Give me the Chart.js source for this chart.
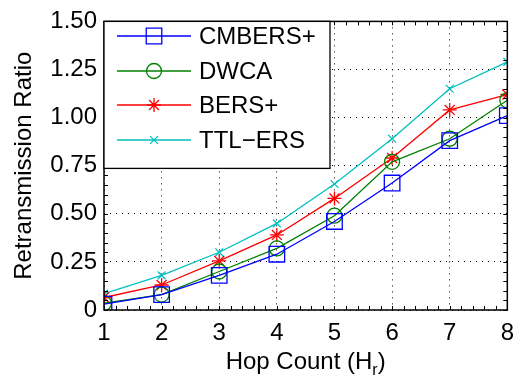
<!DOCTYPE html>
<html>
<head>
<meta charset="utf-8">
<script src="https://cdn.jsdelivr.net/npm/chart.js@4.4.0/dist/chart.umd.min.js"></script>
<style>
  html, body { margin: 0; padding: 0; background: #fff; }
  #wrap { width: 523px; height: 380px; }
</style>
</head>
<body>
<div id="wrap"><canvas id="hopChart" width="523" height="380"></canvas></div>
<script>
// Daten
const hops = [1, 2, 3, 4, 5, 6, 7, 8];
const cmbers = [0.03, 0.08, 0.18, 0.29, 0.46, 0.66, 0.88, 1.01];
const dwca = [0.035, 0.08, 0.20, 0.32, 0.49, 0.77, 0.89, 1.09];
const bers = [0.065, 0.13, 0.255, 0.39, 0.58, 0.79, 1.04, 1.12];
const ttlErs = [0.085, 0.18, 0.30, 0.45, 0.655, 0.89, 1.15, 1.29];
const yTicks = [0, 0.25, 0.5, 0.75, 1.0, 1.25, 1.5];

const FONT = '"Liberation Sans", Arial, sans-serif';

let myChart = document.querySelector('#hopChart');

function series(label, values, color, style, radius) {
    return {
        label: label,
        data: hops.map((h, i) => ({ x: h, y: values[i] })),
        borderColor: color,
        backgroundColor: 'rgba(0,0,0,0)',
        pointBorderColor: color,
        pointBackgroundColor: 'rgba(0,0,0,0)',
        borderWidth: 1.3,
        pointStyle: style,
        pointRadius: radius,
        pointBorderWidth: 1.3,
        tension: 0
    };
}

const datasets = [
    series('CMBERS+', cmbers, '#0000ff', 'rect', 11),
    series('DWCA', dwca, '#008000', 'circle', 7.5),
    series('BERS+', bers, '#ff0000', 'star', 7),
    series('TTL\u2212ERS', ttlErs, '#00bfbf', 'crossRot', 5.5)
];

// Rahmen, Ticks (inkl. Minor), Achsentitel und Legende im MATLAB-Stil
const matlabStyle = {
    id: 'matlabStyle',
    afterDatasetsDraw(chart) {
        const ctx = chart.ctx;
        const a = chart.chartArea;
        const xs = chart.scales.x;
        const ys = chart.scales.y;
        ctx.save();

        // Ticks innen, auf allen vier Seiten
        ctx.strokeStyle = '#000';
        ctx.lineWidth = 1;
        const tl = 4;
        ctx.beginPath();
        for (let v = 1; v <= 8.0001; v += 0.2) {
            const px = Math.round(xs.getPixelForValue(v)) + 0.5;
            ctx.moveTo(px, a.bottom); ctx.lineTo(px, a.bottom - tl);
            ctx.moveTo(px, a.top); ctx.lineTo(px, a.top + tl);
        }
        for (let v = 0; v <= 1.5001; v += 0.05) {
            const py = Math.round(ys.getPixelForValue(v)) + 0.5;
            ctx.moveTo(a.left, py); ctx.lineTo(a.left + tl, py);
            ctx.moveTo(a.right, py); ctx.lineTo(a.right - tl, py);
        }
        ctx.stroke();

        // Rahmen
        ctx.lineWidth = 1.5;
        ctx.strokeRect(a.left, a.top, a.right - a.left, a.bottom - a.top);

        // Legende
        const lx = a.left, ly = a.top, lw = 226, lh = 147;
        ctx.fillStyle = '#fff';
        ctx.fillRect(lx, ly, lw, lh);
        ctx.lineWidth = 1.3;
        ctx.strokeStyle = '#000';
        ctx.strokeRect(lx, ly, lw, lh);
        const rows = [36, 71, 105, 140];
        chart.data.datasets.forEach((ds, i) => {
            const y = rows[i];
            ctx.strokeStyle = ds.borderColor;
            ctx.lineWidth = ds.borderWidth;
            ctx.beginPath();
            ctx.moveTo(117, y); ctx.lineTo(191, y);
            ctx.stroke();
            ctx.fillStyle = 'rgba(0,0,0,0)';
            Chart.helpers.drawPoint(ctx, {
                pointStyle: ds.pointStyle,
                radius: ds.pointRadius,
                borderWidth: ds.pointBorderWidth,
                rotation: 0
            }, 154, y);
            ctx.fillStyle = '#000';
            ctx.font = '24px ' + FONT;
            ctx.textAlign = 'left';
            ctx.textBaseline = 'middle';
            ctx.fillText(ds.label, 199, y + 1);
        });

        // Achsentitel
        ctx.fillStyle = '#000';
        ctx.font = '24px ' + FONT;
        ctx.textBaseline = 'alphabetic';
        ctx.save();
        ctx.translate(31, (a.top + a.bottom) / 2);
        ctx.rotate(-Math.PI / 2);
        ctx.textAlign = 'center';
        ctx.fillText('Retransmission Ratio', 0, 0);
        ctx.restore();

        const main = 'Hop Count (H';
        ctx.font = '24px ' + FONT;
        const w1 = ctx.measureText(main).width;
        ctx.font = '16px ' + FONT;
        const w2 = ctx.measureText('r').width;
        ctx.font = '24px ' + FONT;
        const w3 = ctx.measureText(')').width;
        const cx = (a.left + a.right) / 2;
        let x0 = cx - (w1 + w2 + w3) / 2;
        const base = 369;
        ctx.textAlign = 'left';
        ctx.fillText(main, x0, base);
        ctx.font = '16px ' + FONT;
        ctx.fillText('r', x0 + w1, base + 6);
        ctx.font = '24px ' + FONT;
        ctx.fillText(')', x0 + w1 + w2, base);

        ctx.restore();
    }
};

const config = {
    type: 'line',
    data: { datasets: datasets },
    options: {
        responsive: false,
        animation: false,
        layout: { padding: { left: 0, top: 16, right: 15, bottom: 0 } },
        plugins: {
            legend: { display: false },
            tooltip: { enabled: false }
        },
        scales: {
            x: {
                type: 'linear',
                min: 1,
                max: 8,
                afterFit: (s) => { s.height = 70; },
                ticks: {
                    stepSize: 1,
                    color: '#000',
                    padding: 9,
                    font: { family: FONT, size: 24 }
                },
                grid: {
                    color: '#000',
                    lineWidth: 1,
                    drawTicks: false,
                    tickBorderDash: [1, 5]
                },
                border: { display: false, dash: [1, 5] }
            },
            y: {
                min: 0,
                max: 1.5,
                afterFit: (s) => { s.width = 104; },
                afterBuildTicks: (s) => { s.ticks = yTicks.map(v => ({ value: v })); },
                ticks: {
                    color: '#000',
                    padding: 7,
                    font: { family: FONT, size: 24 },
                    callback: (v) => v === 0 ? '0' : v.toFixed(2)
                },
                grid: {
                    color: '#000',
                    lineWidth: 1,
                    drawTicks: false
                },
                border: { display: false, dash: [1, 5] }
            }
        }
    },
    plugins: [matlabStyle]
};

if (myChart) {
    const chart = new Chart(myChart, config);
} else {
    console.error('Canvas nicht gefunden');
}
</script>
</body>
</html>
